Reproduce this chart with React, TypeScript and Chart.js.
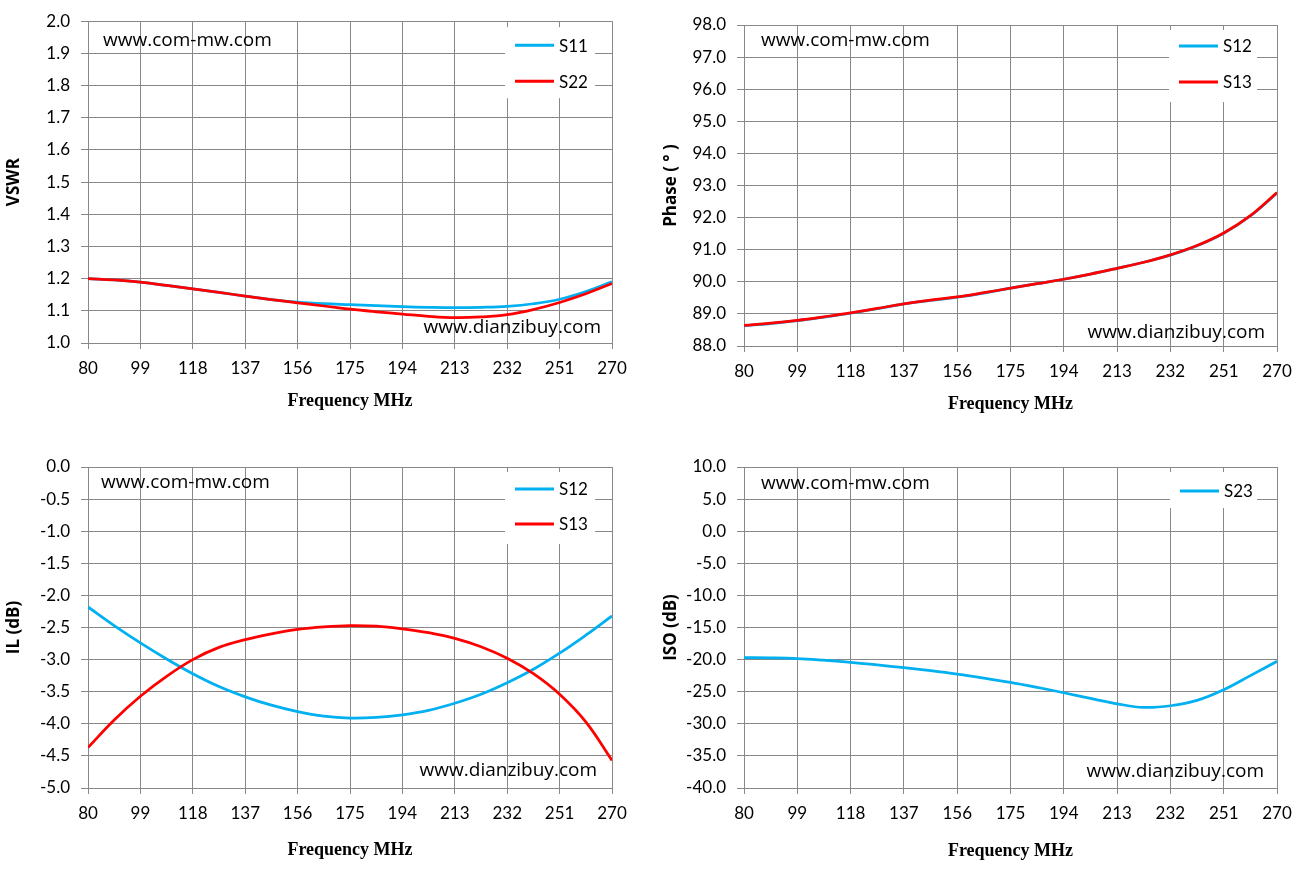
import { useEffect, useRef } from 'react';
import Chart from 'chart.js/auto';

const BLUE = '#00B0F0';
const RED = '#FF0000';
const GRID = '#888888';

const SITE_TOP = 'www.com-mw.com';
const SITE_BOTTOM = 'www.dianzibuy.com';
const X_TITLE = 'Frequency MHz';

// frequency points (MHz)
const freqs = [80, 89.5, 99, 108.5, 118, 127.5, 137, 146.5, 156, 165.5, 175, 184.5, 194, 203.5, 213, 222.5, 232, 241.5, 251, 260.5, 270];

const vswrS11 = [1.2, 1.196, 1.189, 1.179, 1.168, 1.157, 1.146, 1.135, 1.127, 1.122, 1.119, 1.116, 1.113, 1.111, 1.11, 1.111, 1.114, 1.122, 1.136, 1.16, 1.19];
const vswrS22 = [1.2, 1.196, 1.189, 1.179, 1.168, 1.157, 1.146, 1.135, 1.125, 1.115, 1.105, 1.097, 1.09, 1.083, 1.079, 1.081, 1.088, 1.104, 1.126, 1.153, 1.185];

const phaseS12 = [88.63, 88.7, 88.79, 88.9, 89.02, 89.16, 89.31, 89.42, 89.52, 89.65, 89.8, 89.94, 90.08, 90.24, 90.42, 90.61, 90.83, 91.12, 91.51, 92.05, 92.76];
const phaseS13 = [88.64, 88.71, 88.8, 88.91, 89.03, 89.17, 89.31, 89.43, 89.53, 89.66, 89.8, 89.94, 90.08, 90.24, 90.42, 90.61, 90.84, 91.13, 91.52, 92.06, 92.78];

const ilS12 = [-2.18, -2.47, -2.74, -2.99, -3.22, -3.42, -3.58, -3.71, -3.81, -3.88, -3.91, -3.9, -3.86, -3.79, -3.68, -3.54, -3.36, -3.15, -2.9, -2.62, -2.32];
const ilS13 = [-4.37, -3.94, -3.57, -3.26, -3.0, -2.81, -2.69, -2.6, -2.53, -2.49, -2.47, -2.48, -2.52, -2.58, -2.67, -2.8, -2.98, -3.22, -3.54, -3.97, -4.57];

const isoS23 = [-19.69, -19.73, -19.84, -20.1, -20.42, -20.84, -21.25, -21.72, -22.25, -22.87, -23.55, -24.33, -25.16, -26.05, -26.88, -27.45, -27.19, -26.36, -24.7, -22.5, -20.27];

const pts = (ys: number[]) => ys.map((y, i) => ({ x: freqs[i], y }));

const overlayPlugin = {
  id: 'overlay',
  afterDatasetsDraw(chart: any, _args: any, opts: any) {
    const { ctx, chartArea: a } = chart;
    ctx.save();
    ctx.fillStyle = '#000';
    ctx.font = '19px "Open Sans"';
    ctx.textBaseline = 'middle';
    ctx.textAlign = 'left';
    ctx.fillText(SITE_TOP, a.left + opts.topMark[0], a.top + opts.topMark[1]);
    ctx.textAlign = 'right';
    ctx.fillText(SITE_BOTTOM, a.right - opts.bottomMark[0], a.bottom - opts.bottomMark[1]);

    // legend box inside the plot
    const [bx, by, bw, bh] = opts.box;
    const left = a.right - bx;
    ctx.fillStyle = '#fff';
    ctx.fillRect(left, a.top + by, bw, bh);
    chart.data.datasets.forEach((ds: any, i: number) => {
      const y = a.top + opts.rows[0] + i * opts.rows[1];
      ctx.strokeStyle = ds.borderColor;
      ctx.lineWidth = 3;
      ctx.beginPath();
      ctx.moveTo(left + 10, y);
      ctx.lineTo(left + 49, y);
      ctx.stroke();
      ctx.fillStyle = '#000';
      ctx.font = '17px Lato';
      ctx.textAlign = 'left';
      ctx.fillText(ds.label, left + 54, y + 1);
    });
    ctx.restore();
  },
};

type Series = { label: string; color: string; values: number[]; order: number };

type PanelProps = {
  left: number;
  top: number;
  padTop: number;
  padRight: number;
  xHeight: number;
  xTitlePad: number;
  yTitlePad: number;
  yMin: number;
  yMax: number;
  yStep: number;
  yTitle: string;
  series: Series[];
  overlay: any;
};

function Panel(p: PanelProps) {
  const canvasRef = useRef<HTMLCanvasElement | null>(null);
  const chartRef = useRef<Chart | null>(null);

  useEffect(() => {
    if (!canvasRef.current) return;
    if (chartRef.current) chartRef.current.destroy();

    chartRef.current = new Chart(canvasRef.current, {
      type: 'line',
      data: {
        datasets: p.series.map((s) => ({
          label: s.label,
          data: pts(s.values),
          borderColor: s.color,
          backgroundColor: s.color,
          borderWidth: 2.75,
          pointRadius: 0,
          tension: 0.4,
          order: s.order,
        })),
      },
      options: {
        animation: false,
        responsive: true,
        maintainAspectRatio: false,
        layout: { padding: { top: p.padTop, right: p.padRight, left: 0, bottom: 0 } },
        plugins: {
          legend: { display: false },
          tooltip: { enabled: false },
          overlay: p.overlay,
        } as any,
        scales: {
          x: {
            type: 'linear',
            min: 80,
            max: 270,
            ticks: {
              stepSize: 19,
              color: '#000',
              padding: 9,
              font: { family: 'Lato', size: 17 },
              maxRotation: 0,
            },
            grid: { color: GRID, tickLength: 6, lineWidth: 1 },
            border: { color: GRID },
            title: {
              display: true,
              text: X_TITLE,
              color: '#000',
              font: { family: '"Liberation Serif"', size: 18, weight: 'bold' },
              padding: { top: 4, bottom: p.xTitlePad },
            },
            afterFit: (scale: any) => {
              scale.height = p.xHeight;
            },
          },
          y: {
            min: p.yMin,
            max: p.yMax,
            ticks: {
              stepSize: p.yStep,
              color: '#000',
              padding: 11,
              font: { family: 'Lato', size: 17 },
              callback: (v: any) => Number(v).toFixed(1),
            },
            grid: { color: GRID, tickLength: 7, lineWidth: 1 },
            border: { color: GRID },
            title: {
              display: true,
              text: p.yTitle,
              color: '#000',
              font: { family: '"Open Sans"', size: 17, weight: 'bold' },
              padding: { top: p.yTitlePad, bottom: 4 },
            },
            afterFit: (scale: any) => {
              scale.width = 88;
            },
          },
        },
      },
      plugins: [overlayPlugin],
    } as any);

    return () => {
      if (chartRef.current) {
        chartRef.current.destroy();
        chartRef.current = null;
      }
    };
  }, []);

  return (
    <div style={{ position: 'absolute', left: p.left, top: p.top, width: 656, height: 436 }}>
      <canvas ref={canvasRef} />
    </div>
  );
}

export default function App() {
  return (
    <div style={{ position: 'fixed', left: 0, top: 0, width: 1312, height: 873, background: '#fff' }}>
      <Panel
        left={0}
        top={0}
        padTop={21}
        padRight={44}
        xHeight={93}
        xTitlePad={24}
        yTitlePad={4}
        yMin={1}
        yMax={2}
        yStep={0.1}
        yTitle="VSWR"
        series={[
          { label: 'S11', color: BLUE, values: vswrS11, order: 1 },
          { label: 'S22', color: RED, values: vswrS22, order: 0 },
        ]}
        overlay={{ topMark: [15, 19], bottomMark: [11, 15], box: [107, 6, 90, 71], rows: [24, 36] }}
      />
      <Panel
        left={656}
        top={0}
        padTop={25}
        padRight={35}
        xHeight={90}
        xTitlePad={21}
        yTitlePad={5}
        yMin={88}
        yMax={98}
        yStep={1}
        yTitle="Phase ( ° )"
        series={[
          { label: 'S12', color: BLUE, values: phaseS12, order: 1 },
          { label: 'S13', color: RED, values: phaseS13, order: 0 },
        ]}
        overlay={{ topMark: [17, 16], bottomMark: [12, 13], box: [108, 5, 88, 72], rows: [21, 36] }}
      />
      <Panel
        left={0}
        top={437}
        padTop={30}
        padRight={44}
        xHeight={85}
        xTitlePad={12}
        yTitlePad={4}
        yMin={-5}
        yMax={0}
        yStep={0.5}
        yTitle="IL (dB)"
        series={[
          { label: 'S12', color: BLUE, values: ilS12, order: 1 },
          { label: 'S13', color: RED, values: ilS13, order: 0 },
        ]}
        overlay={{ topMark: [13, 16], bottomMark: [15, 17], box: [107, 5, 90, 72], rows: [22, 35] }}
      />
      <Panel
        left={656}
        top={437}
        padTop={30}
        padRight={35}
        xHeight={85}
        xTitlePad={11}
        yTitlePad={5}
        yMin={-40}
        yMax={10}
        yStep={5}
        yTitle="ISO (dB)"
        series={[{ label: 'S23', color: BLUE, values: isoS23, order: 0 }]}
        overlay={{ topMark: [17, 17], bottomMark: [13, 16], box: [107, 5, 87, 36], rows: [24, 36] }}
      />
    </div>
  );
}
